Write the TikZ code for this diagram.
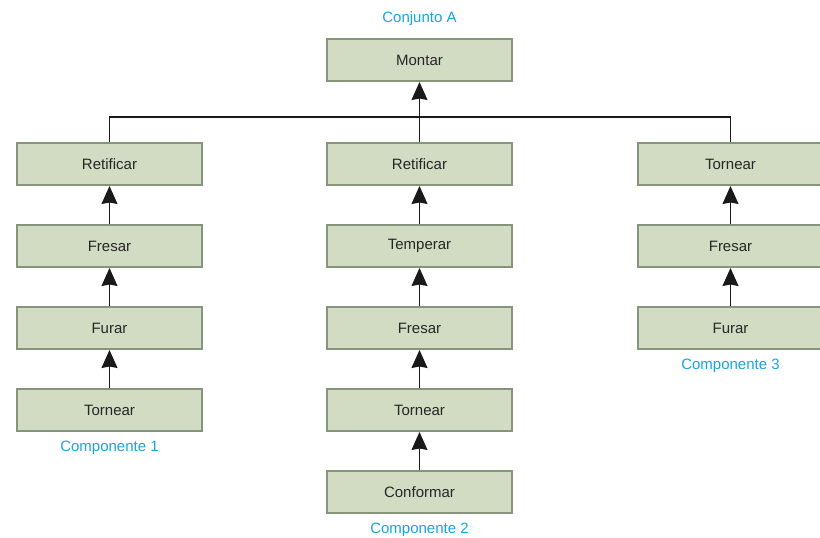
\documentclass[tikz,border=0pt]{standalone}
\usepackage{fontspec}
\setmainfont{Liberation Sans}
\usetikzlibrary{arrows.meta}
\definecolor{boxfill}{HTML}{D2DCC3}
\definecolor{boxedge}{HTML}{86947E}
\definecolor{labcol}{HTML}{1AA3E0}
\tikzset{
  stepbox/.style={draw=boxedge, fill=boxfill, line width=2pt, minimum width=185pt, minimum height=42pt, inner sep=0pt, font=\fontsize{15pt}{18pt}\selectfont, text=black!85},
  complabel/.style={text=labcol, font=\fontsize{15pt}{18pt}\selectfont, inner sep=0pt},
  conn/.style={line width=1.3pt, draw=black!90},
  arr/.style={conn, -{Stealth[length=18pt,width=16pt,inset=1.5pt]}}
}
\begin{document}
\begin{tikzpicture}[x=1pt,y=-1pt]
\useasboundingbox (0,0) rectangle (820,538);
% top
\node[complabel] (lblA) at (419.5,19) {Conjunto A};
\node[stepbox] (montar) at (419.5,60) {Montar};
% column 1
\node[stepbox] (c1r1) at (109.5,164) {Retificar};
\node[stepbox] (c1r2) at (109.5,246) {Fresar};
\node[stepbox] (c1r3) at (109.5,328) {Furar};
\node[stepbox] (c1r4) at (109.5,410) {Tornear};
\node[complabel] (lbl1) at (109.5,448) {Componente 1};
% column 2
\node[stepbox] (c2r1) at (419.5,164) {Retificar};
\node[stepbox] (c2r2) at (419.5,246) {Temperar};
\node[stepbox] (c2r3) at (419.5,328) {Fresar};
\node[stepbox] (c2r4) at (419.5,410) {Tornear};
\node[stepbox] (c2r5) at (419.5,492) {Conformar};
\node[complabel] (lbl2) at (419.5,530) {Componente 2};
% column 3
\node[stepbox] (c3r1) at (730.5,164) {Tornear};
\node[stepbox] (c3r2) at (730.5,246) {Fresar};
\node[stepbox] (c3r3) at (730.5,328) {Furar};
\node[complabel] (lbl3) at (730.5,366) {Componente 3};
% connectors
\coordinate (junc) at (419.5,117);
\draw[conn] (c1r1.north) |- (junc);
\draw[conn] (c3r1.north) |- (junc);
\draw[conn] (c2r1.north) -- (junc);
\draw[arr] (junc) -- (montar.south);
\draw[arr] (c1r2) -- (c1r1);
\draw[arr] (c1r3) -- (c1r2);
\draw[arr] (c1r4) -- (c1r3);
\draw[arr] (c2r2) -- (c2r1);
\draw[arr] (c2r3) -- (c2r2);
\draw[arr] (c2r4) -- (c2r3);
\draw[arr] (c2r5) -- (c2r4);
\draw[arr] (c3r2) -- (c3r1);
\draw[arr] (c3r3) -- (c3r2);
\end{tikzpicture}
\end{document}
